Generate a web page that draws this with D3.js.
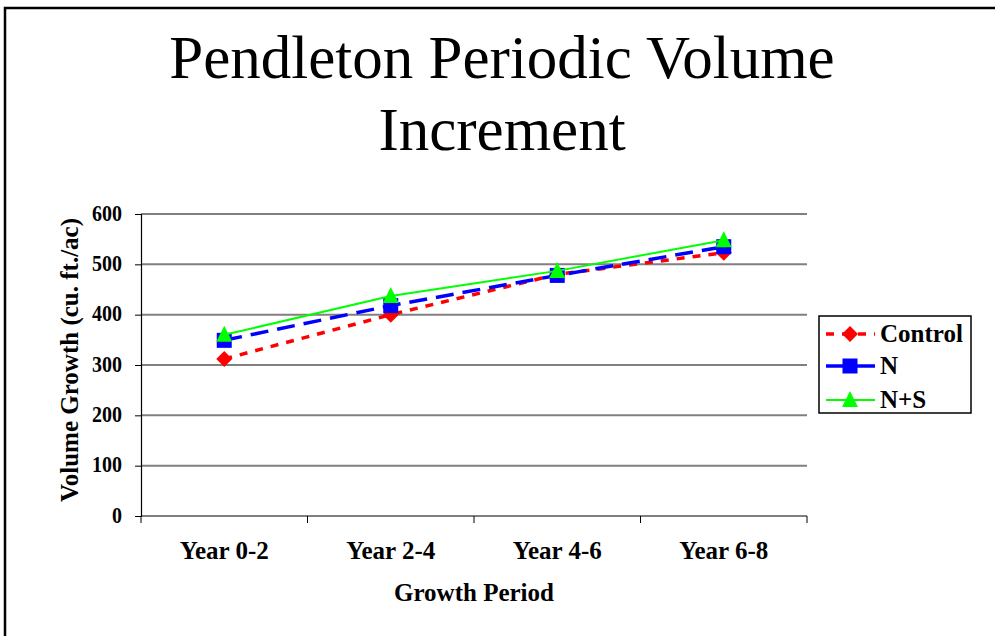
<!DOCTYPE html>
<html><head><meta charset="utf-8">
<script src="https://cdn.jsdelivr.net/npm/d3@7"></script>
<style>
html,body{margin:0;padding:0;background:#fff;}
svg{display:block;font-family:"Liberation Serif","Times New Roman",serif;}
</style></head>
<body>
<svg id="chart" width="995" height="636"></svg>
<script>
const categories = ["Year 0-2", "Year 2-4", "Year 4-6", "Year 6-8"];
const seriesNames = ["Control", "N", "N+S"];
const controlValues = [312, 400, 480, 523];
const nValues = [349, 418, 478, 535];
const nsValues = [360, 437, 487, 548];
const yTicks = [0, 100, 200, 300, 400, 500, 600];
const titleLines = ["Pendleton Periodic Volume", "Increment"];
const xTitle = "Growth Period";
const yTitle = "Volume Growth (cu. ft./ac)";

const series = [
  {name: seriesNames[0], values: controlValues, color: "#ff0000", dash: "8,8", width: 3.5, marker: "diamond"},
  {name: seriesNames[1], values: nValues, color: "#0000ff", dash: "18,9", width: 3.5, marker: "square"},
  {name: seriesNames[2], values: nsValues, color: "#00ff00", dash: null, width: 2, marker: "triangle"}
];

const svg = d3.select("#chart");
const L = 141, R = 807, T = 214, B = 516;

// outer frame (only top and left visible)
svg.append("path").attr("d", `M5,636 L5,8 L995,8`).attr("fill", "none").attr("stroke", "#000").attr("stroke-width", 2.5);

// title
const title = svg.append("text").attr("text-anchor", "middle").attr("font-size", 61).attr("fill", "#000");
titleLines.forEach((t, i) => title.append("tspan").attr("x", 502).attr("y", 78 + i * 72).text(t));

const x = d3.scaleBand().domain(categories).range([L, R]);
const y = d3.scaleLinear().domain([0, 600]).range([B, T]);

// gridlines
svg.append("g").selectAll("line").data(yTicks.filter(d => d > 0)).join("line")
  .attr("x1", L).attr("x2", R).attr("y1", d => y(d)).attr("y2", d => y(d))
  .attr("stroke", "#808080").attr("stroke-width", 2);

// y axis
const yAxis = svg.append("g").attr("transform", `translate(${L},0)`)
  .call(d3.axisLeft(y).tickValues(yTicks).tickSize(6).tickPadding(13));
yAxis.select(".domain").attr("stroke", "#000").attr("stroke-width", 1.2);
yAxis.selectAll(".tick line").attr("stroke", "#000");
yAxis.selectAll("text").attr("font-family", "Liberation Serif").attr("font-weight", "bold").attr("font-size", 20).attr("fill", "#000")
  .attr("transform", "scale(1,1.12)").attr("dy", "0.28em");

// x axis
const xAxis = svg.append("g").attr("transform", `translate(0,${B})`)
  .call(d3.axisBottom(x).tickSize(0).tickPadding(25));
xAxis.select(".domain").attr("stroke", "#000").attr("stroke-width", 1.2).attr("d", `M${L},0H${R}`);
xAxis.selectAll("text").attr("font-family", "Liberation Serif").attr("font-weight", "bold").attr("font-size", 25).attr("fill", "#000");
// category boundary ticks
const bounds = categories.map(c => x(c)).concat([x(categories[categories.length - 1]) + x.bandwidth()]);
svg.append("g").selectAll("line").data(bounds).join("line")
  .attr("x1", d => d).attr("x2", d => d).attr("y1", B).attr("y2", B + 7)
  .attr("stroke", "#000").attr("stroke-width", 1);

// axis titles
svg.append("text").attr("x", 474).attr("y", 601).attr("text-anchor", "middle")
  .attr("font-weight", "bold").attr("font-size", 25).text(xTitle);
svg.append("text").attr("transform", `translate(78,360) rotate(-90)`).attr("text-anchor", "middle")
  .attr("font-weight", "bold").attr("font-size", 25).text(yTitle);

const cx = c => x(c) + x.bandwidth() / 2;

function drawMarker(g, type, px, py, color) {
  if (type === "diamond") {
    g.append("path").attr("d", `M${px},${py - 8}L${px + 8},${py}L${px},${py + 8}L${px - 8},${py}Z`).attr("fill", color);
  } else if (type === "square") {
    g.append("rect").attr("x", px - 7.5).attr("y", py - 7.5).attr("width", 15).attr("height", 15).attr("fill", color);
  } else {
    g.append("path").attr("d", `M${px},${py - 9}L${px + 8},${py + 7}L${px - 8},${py + 7}Z`).attr("fill", color);
  }
}

const line = d3.line().x((d, i) => cx(categories[i])).y(d => y(d));
series.forEach(s => {
  const g = svg.append("g");
  g.append("path").attr("d", line(s.values)).attr("fill", "none").attr("stroke", s.color)
    .attr("stroke-width", s.width).attr("stroke-dasharray", s.dash);
  s.values.forEach((v, i) => drawMarker(g, s.marker, cx(categories[i]), y(v), s.color));
});

// legend
const lg = svg.append("g");
lg.append("rect").attr("x", 819).attr("y", 316).attr("width", 152).attr("height", 97)
  .attr("fill", "#fff").attr("stroke", "#000").attr("stroke-width", 1.5);
const rowY = [334, 366, 400];
series.forEach((s, i) => {
  const yy = rowY[i];
  lg.append("line").attr("x1", 826).attr("x2", 875).attr("y1", yy).attr("y2", yy)
    .attr("stroke", s.color).attr("stroke-width", s.width).attr("stroke-dasharray", s.marker === "diamond" ? "8,8" : null);
  drawMarker(lg, s.marker, 850, yy, s.color);
  lg.append("text").attr("x", 880).attr("y", yy + 8).attr("font-weight", "bold").attr("font-size", 25).text(s.name);
});
</script>
</body></html>
